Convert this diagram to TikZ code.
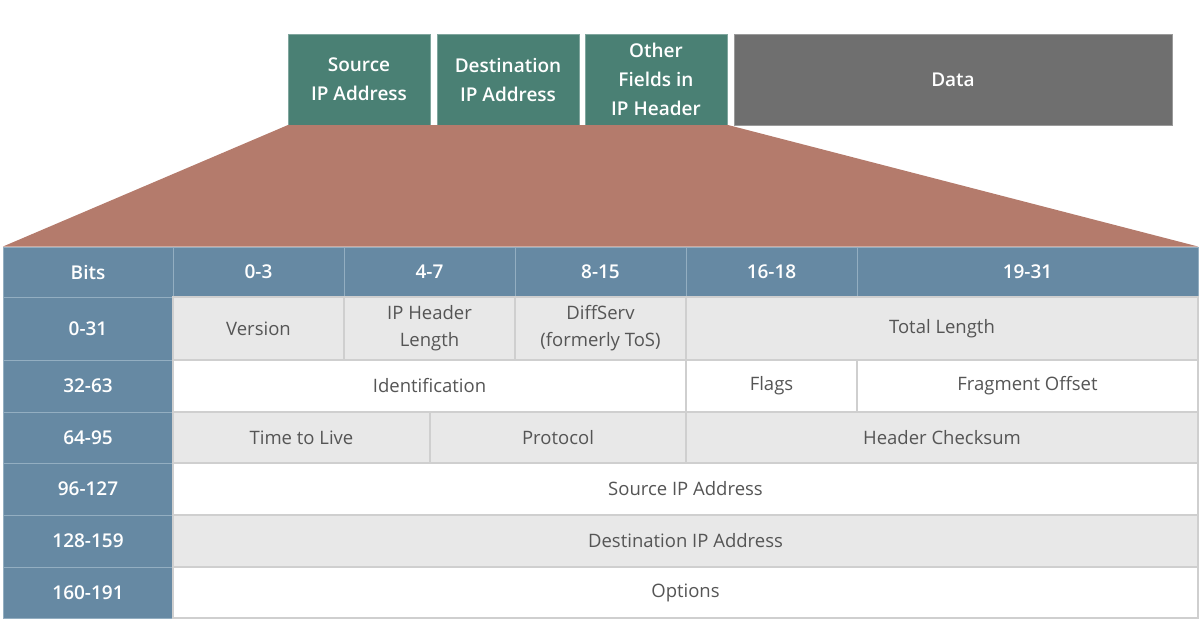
\documentclass[tikz,border=0pt]{standalone}
\usepackage{fontspec}
\setmainfont{Open Sans}[BoldFont={Open Sans Semibold}]
\definecolor{tgreen}{HTML}{4A8074}
\definecolor{tgrey}{HTML}{6F6F6F}
\definecolor{trap}{HTML}{B47B6C}
\definecolor{hblue}{HTML}{6689A3}
\definecolor{hline}{HTML}{93AEC1}
\definecolor{lcell}{HTML}{E8E8E8}
\definecolor{cline}{HTML}{CFCFCF}
\definecolor{ctext}{HTML}{555555}
\newcommand\mkcell[7]{\node[#6, minimum width={(#4-#2)*1pt}, minimum height={(#5-#3)*1pt}] (#1) at ({(#2+#4)/2},{(#3+#5)/2}) {#7};}
\begin{document}
\begin{tikzpicture}[x=1pt,y=-1pt,
  topbox/.style={fill=tgreen, draw=tgreen!70!white, line width=0.8pt, inner sep=0pt, text=white, align=center, font=\bfseries\fontsize{19}{29}\selectfont},
  databox/.style={topbox, fill=tgrey, draw=tgrey!70!white},
  hcell/.style={fill=hblue, draw=hline, line width=1pt, inner sep=0pt, text=white, align=center, font=\bfseries\fontsize{19}{27}\selectfont},
  gcell/.style={fill=lcell, draw=cline, line width=1.2pt, inner sep=0pt, text=ctext, align=center, font=\fontsize{18.5}{27}\selectfont},
  wcell/.style={gcell, fill=white}]
\useasboundingbox (0,0) rectangle (1202,621);
% top boxes
\mkcell{src}{288}{34}{430}{125}{topbox}{Source\\IP Address}
\mkcell{dst}{437}{34}{579}{125}{topbox}{Destination\\IP Address}
\mkcell{oth}{585}{34}{727}{125}{topbox}{Other\\Fields in\\IP Header}
\mkcell{dat}{734}{34}{1172}{125}{databox}{Data}
% trapezoid
\coordinate (tl) at (288,125);
\coordinate (tr) at (728,125);
\coordinate (br) at (1198,246.5);
\coordinate (bl) at (3,246.5);
\fill[trap] (tl) -- (tr) -- (br) -- (bl) -- cycle;
% header row
\mkcell{hb}{3}{247}{173}{297}{hcell}{Bits}
\mkcell{h1}{173}{247}{344}{297}{hcell}{0-3}
\mkcell{h2}{344}{247}{515}{297}{hcell}{4-7}
\mkcell{h3}{515}{247}{686}{297}{hcell}{8-15}
\mkcell{h4}{686}{247}{857}{297}{hcell}{16-18}
\mkcell{h5}{857}{247}{1198}{297}{hcell}{19-31}
% bits column
\mkcell{b1}{3}{297}{173}{360}{hcell}{0-31}
\mkcell{b2}{3}{360}{173}{412}{hcell}{32-63}
\mkcell{b3}{3}{412}{173}{463}{hcell}{64-95}
\mkcell{b4}{3}{463}{173}{515}{hcell}{96-127}
\mkcell{b5}{3}{515}{173}{567}{hcell}{128-159}
\mkcell{b6}{3}{567}{173}{618}{hcell}{160-191}
% row 1
\mkcell{ver}{173}{297}{344}{360}{gcell}{Version}
\mkcell{ihl}{344}{297}{515}{360}{gcell}{IP Header\\Length}
\mkcell{dsf}{515}{297}{686}{360}{gcell}{DiffServ\\(formerly ToS)}
\mkcell{tot}{686}{297}{1198}{360}{gcell}{Total Length}
% row 2
\mkcell{idn}{173}{360}{686}{412}{wcell}{Identification}
\mkcell{flg}{686}{360}{857}{412}{wcell}{Flags}
\mkcell{frg}{857}{360}{1198}{412}{wcell}{Fragment Offset}
% row 3
\mkcell{ttl}{173}{412}{430}{463}{gcell}{Time to Live}
\mkcell{pro}{430}{412}{686}{463}{gcell}{Protocol}
\mkcell{chk}{686}{412}{1198}{463}{gcell}{Header Checksum}
% rows 4-6
\mkcell{sip}{173}{463}{1198}{515}{wcell}{Source IP Address}
\mkcell{dip}{173}{515}{1198}{567}{gcell}{Destination IP Address}
\mkcell{opt}{173}{567}{1198}{618}{wcell}{Options}
\end{tikzpicture}
\end{document}
